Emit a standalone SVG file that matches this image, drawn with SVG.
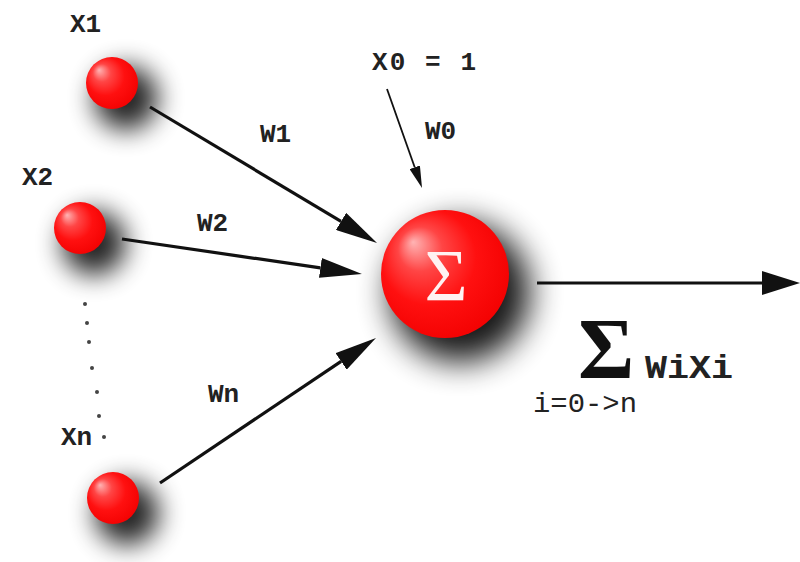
<svg xmlns="http://www.w3.org/2000/svg" width="800" height="562" viewBox="0 0 800 562">
<style>
.lbl{font-family:"Liberation Mono","DejaVu Sans Mono",monospace;font-weight:bold;font-size:26px;fill:#222}
.conn{stroke:#111;stroke-width:3.2;fill:none}
.thin{stroke:#111;stroke-width:1.8;fill:none}
.ball{fill:url(#red)}
.shadow{fill:#000;opacity:0.85;filter:url(#blur)}
.shadowBig{fill:#000;opacity:0.9;filter:url(#blurBig)}
.dot{fill:#444}
</style>
<defs>
<radialGradient id="red" cx="0.45" cy="0.45" r="0.62" fx="0.25" fy="0.25">
<stop offset="0" stop-color="#ffb4b4"/>
<stop offset="0.28" stop-color="#ff4545"/>
<stop offset="0.6" stop-color="#ff1010"/>
<stop offset="1" stop-color="#f20000"/>
</radialGradient>
<filter id="blur" x="-1" y="-1" width="3" height="3"><feGaussianBlur stdDeviation="13"/></filter>
<filter id="blurBig" x="-1" y="-1" width="3" height="3"><feGaussianBlur stdDeviation="16"/></filter>
<marker id="head" markerUnits="userSpaceOnUse" viewBox="0 0 42 20" refX="0" refY="10" markerWidth="42" markerHeight="20" orient="auto">
<path d="M0,0 L42,10 L0,20 Z" fill="#111"/>
</marker>
<marker id="headOut" markerUnits="userSpaceOnUse" viewBox="0 0 38 24" refX="0" refY="12" markerWidth="38" markerHeight="24" orient="auto">
<path d="M0,0 L38,12 L0,24 Z" fill="#111"/>
</marker>
<marker id="headSmall" markerUnits="userSpaceOnUse" viewBox="0 0 22 11" refX="0" refY="5.5" markerWidth="22" markerHeight="11" orient="auto">
<path d="M0,0 L22,5.5 L0,11 Z" fill="#111"/>
</marker>
</defs>
<rect width="800" height="562" fill="#fff"/>

<g id="x1">
<circle class="shadow" cx="126" cy="98" r="32"/>
<circle class="ball" cx="112" cy="83" r="26"/>
<text class="lbl" x="70" y="32">X1</text>
</g>
<g id="x2">
<circle class="shadow" cx="94" cy="243" r="32"/>
<circle class="ball" cx="80" cy="228" r="26"/>
<text class="lbl" x="22" y="185">X2</text>
</g>
<g id="xn">
<circle class="shadow" cx="127" cy="513" r="32"/>
<circle class="ball" cx="113" cy="498" r="26"/>
<text class="lbl" x="61" y="445">Xn</text>
</g>
<g id="dots">
<circle class="dot" cx="85" cy="304" r="2"/>
<circle class="dot" cx="87" cy="323" r="2"/>
<circle class="dot" cx="89" cy="342" r="2"/>
<circle class="dot" cx="92" cy="368" r="2"/>
<circle class="dot" cx="97" cy="392" r="2"/>
<circle class="dot" cx="99" cy="416" r="2"/>
<circle class="dot" cx="104" cy="437" r="2"/>
</g>
<g id="x0">
<text class="lbl" x="372" y="70" textLength="104">X0 = 1</text>
</g>
<g id="sum">
<circle class="shadowBig" cx="460" cy="292" r="70"/>
<circle class="ball" cx="445" cy="274" r="64"/>
<text x="446" y="301" text-anchor="middle" font-family="'Liberation Serif','DejaVu Serif',serif" font-size="74" fill="#fff2f2">Σ</text>
</g>
<g id="output">
<text x="578" y="378" font-family="'Liberation Serif','DejaVu Serif',serif" font-weight="bold" font-size="86" fill="#111">Σ</text>
<text class="lbl" x="645" y="378" style="font-size:34px" textLength="88" lengthAdjust="spacingAndGlyphs">WiXi</text>
<text x="533" y="412" font-family="'Liberation Mono','DejaVu Sans Mono',monospace" font-size="28" fill="#222" textLength="104" lengthAdjust="spacingAndGlyphs">i=0-&gt;n</text>
</g>

<g id="connectors">
<line class="conn" x1="150" y1="107" x2="341" y2="221.4" marker-end="url(#head)"/>
<line class="conn" x1="122" y1="239" x2="320.4" y2="267.9" marker-end="url(#head)"/>
<line class="conn" x1="160" y1="483" x2="341.1" y2="361.4" marker-end="url(#head)"/>
<line class="thin" x1="387" y1="89" x2="414.7" y2="167.3" marker-end="url(#headSmall)"/>
<line class="conn" x1="537" y1="283" x2="762" y2="283" marker-end="url(#headOut)"/>
<text class="lbl" x="260" y="142">W1</text>
<text class="lbl" x="197" y="231">W2</text>
<text class="lbl" x="425" y="139">W0</text>
<text class="lbl" x="208" y="402">Wn</text>
</g>
</svg>
